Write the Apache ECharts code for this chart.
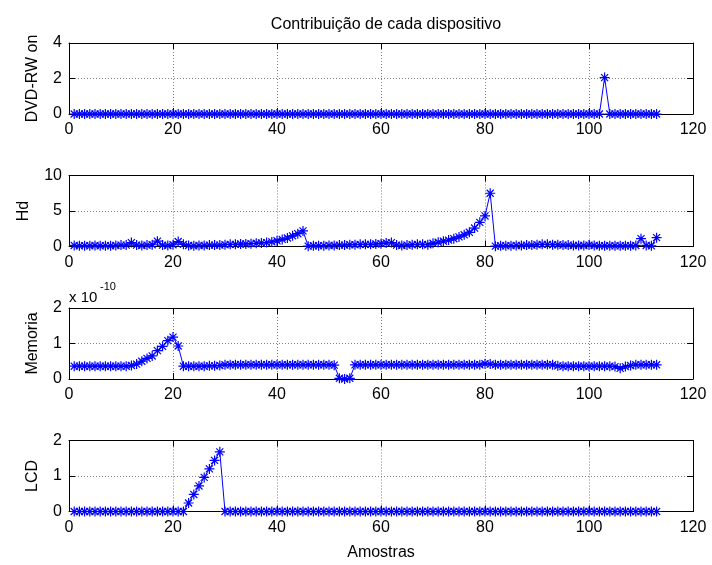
<!DOCTYPE html>
<html>
<head>
<meta charset="utf-8">
<script src="https://cdn.jsdelivr.net/npm/echarts@6/dist/echarts.min.js"></script>
<style>
html,body{margin:0;padding:0;background:#fff;}
#chart{width:712px;height:565px;}
</style>
</head>
<body>
<div id="chart"></div>
<script>
// ---- Data (sample index 1..113) ----
const amostras = Array.from({length: 113}, (_, i) => i + 1);

const xTicks = [0, 20, 40, 60, 80, 100, 120];

const dvdRwOn = [
  0,0,0,0,0,0,0,0,0,0, 0,0,0,0,0,0,0,0,0,0,
  0,0,0,0,0,0,0,0,0,0, 0,0,0,0,0,0,0,0,0,0,
  0,0,0,0,0,0,0,0,0,0, 0,0,0,0,0,0,0,0,0,0,
  0,0,0,0,0,0,0,0,0,0, 0,0,0,0,0,0,0,0,0,0,
  0,0,0,0,0,0,0,0,0,0, 0,0,0,0,0,0,0,0,0,0,
  0,0,2.05,0,0,0,0,0,0,0, 0,0,0
];

const hd = [
  0.15,0.10,0.12,0.10,0.15,0.10,0.12,0.10,0.15,0.20,
  0.20,0.55,0.20,0.15,0.20,0.25,0.75,0.20,0.15,0.25,
  0.70,0.30,0.15,0.10,0.15,0.15,0.20,0.20,0.20,0.25,
  0.30,0.30,0.35,0.35,0.40,0.45,0.50,0.55,0.65,0.80,
  1.00,1.20,1.50,1.80,2.20,0.05,0.10,0.10,0.12,0.15,
  0.15,0.20,0.20,0.25,0.25,0.30,0.30,0.30,0.35,0.40,
  0.50,0.55,0.20,0.15,0.20,0.25,0.30,0.30,0.25,0.45,
  0.60,0.75,0.90,1.10,1.35,1.65,2.00,2.60,3.40,4.30,
  7.50,0.05,0.10,0.10,0.12,0.15,0.15,0.20,0.20,0.25,
  0.30,0.30,0.25,0.25,0.20,0.20,0.15,0.15,0.15,0.20,
  0.15,0.10,0.10,0.10,0.10,0.10,0.10,0.10,0.15,1.10,
  0.15,0.10,1.25
];

// Memoria values in units of 1e-10
const memoria = [
  0.36,0.36,0.36,0.36,0.36,0.36,0.36,0.36,0.36,0.36,
  0.36,0.38,0.42,0.50,0.58,0.65,0.80,0.92,1.08,1.18,
  0.93,0.36,0.36,0.36,0.36,0.36,0.37,0.37,0.38,0.40,
  0.40,0.40,0.40,0.40,0.40,0.40,0.40,0.40,0.40,0.40,
  0.40,0.40,0.40,0.40,0.40,0.40,0.40,0.40,0.40,0.40,
  0.39,0.02,0.00,0.02,0.40,0.40,0.40,0.40,0.40,0.40,
  0.40,0.40,0.40,0.40,0.40,0.40,0.40,0.40,0.40,0.40,
  0.40,0.40,0.40,0.40,0.40,0.40,0.40,0.40,0.40,0.43,
  0.42,0.40,0.40,0.40,0.40,0.40,0.40,0.40,0.40,0.40,
  0.40,0.40,0.40,0.37,0.36,0.36,0.36,0.36,0.36,0.36,
  0.36,0.36,0.36,0.36,0.35,0.30,0.35,0.38,0.40,0.40,
  0.40,0.40,0.40
];

const lcd = [
  0,0,0,0,0,0,0,0,0,0, 0,0,0,0,0,0,0,0,0,0,
  0,0,0.24,0.48,0.72,0.96,1.20,1.44,1.68,0,
  0,0,0,0,0,0,0,0,0,0, 0,0,0,0,0,0,0,0,0,0,
  0,0,0,0,0,0,0,0,0,0, 0,0,0,0,0,0,0,0,0,0,
  0,0,0,0,0,0,0,0,0,0, 0,0,0,0,0,0,0,0,0,0,
  0,0,0,0,0,0,0,0,0,0, 0,0,0,0,0,0,0,0,0,0,
  0,0,0
];

const panels = [
  {name: 'DVD-RW on', values: dvdRwOn, yMax: 4, yStep: 2, nameGap: 28},
  {name: 'Hd',        values: hd,      yMax: 10, yStep: 5, nameGap: 37},
  {name: 'Memoria',   values: memoria, yMax: 2, yStep: 1, nameGap: 28},
  {name: 'LCD',       values: lcd,     yMax: 2, yStep: 1, nameGap: 28}
];

// ---- Styling ----
const FONT = 'Liberation Sans, Arial, Helvetica, sans-serif';
const BLUE = '#0000ff';
const STAR = 'path://M8.8 0L11.2 0L11.2 20L8.8 20Z M0 8.8L20 8.8L20 11.2L0 11.2Z M3.8 2.1L17.9 16.2L16.2 17.9L2.1 3.8Z M16.2 2.1L17.9 3.8L3.8 17.9L2.1 16.2Z';

const LEFT = 69, WIDTH = 624, HEIGHT = 71, TOP0 = 43, STEP = 132.5;

const grids = [], xAxes = [], yAxes = [], series = [];
panels.forEach((p, i) => {
  grids.push({left: LEFT, top: TOP0 + i * STEP, width: WIDTH, height: HEIGHT, containLabel: false});
  const axLine = {show: true, onZero: false, lineStyle: {color: '#000', width: 1}};
  const tick = {show: true, inside: true, length: 6, lineStyle: {color: '#000', width: 1}};
  xAxes.push({
    gridIndex: i, type: 'value', min: 0, max: 120, interval: 20, position: 'bottom',
    axisLine: axLine, axisTick: tick,
    axisLabel: {show: true, color: '#000', fontFamily: FONT, fontSize: 16, margin: 8,
      formatter: v => xTicks.includes(v) ? String(v) : ''},
    splitLine: {show: true, lineStyle: {color: '#808080', type: [1, 2], width: 1}},
    name: i === 3 ? 'Amostras' : '', nameLocation: 'middle', nameGap: 33,
    nameTextStyle: {color: '#000', fontFamily: FONT, fontSize: 16}
  });
  xAxes.push({
    gridIndex: i, type: 'value', min: 0, max: 120, interval: 20, position: 'top',
    axisLine: axLine, axisTick: tick, axisLabel: {show: false}, splitLine: {show: false}
  });
  yAxes.push({
    gridIndex: i, type: 'value', min: 0, max: p.yMax, interval: p.yStep, position: 'left',
    axisLine: axLine, axisTick: tick,
    axisLabel: {show: true, color: '#000', fontFamily: FONT, fontSize: 16, margin: 7},
    splitLine: {show: true, lineStyle: {color: '#808080', type: [1, 2], width: 1}},
    name: p.name, nameLocation: 'middle', nameGap: p.nameGap, nameRotate: 90,
    nameTextStyle: {color: '#000', fontFamily: FONT, fontSize: 16}
  });
  yAxes.push({
    gridIndex: i, type: 'value', min: 0, max: p.yMax, interval: p.yStep, position: 'right',
    axisLine: axLine, axisTick: tick, axisLabel: {show: false}, splitLine: {show: false}
  });
  series.push({
    type: 'line', name: p.name, xAxisIndex: 2 * i, yAxisIndex: 2 * i,
    data: amostras.map((x, k) => [x, p.values[k]]),
    symbol: STAR, symbolSize: 10, showAllSymbol: true, clip: false,
    itemStyle: {color: BLUE},
    lineStyle: {color: BLUE, width: 1},
    animation: false
  });
});

const chart = echarts.init(document.getElementById('chart'), null, {renderer: 'canvas'});
chart.setOption({
  backgroundColor: '#fff',
  animation: false,
  title: {
    text: 'Contribuição de cada dispositivo', left: LEFT + WIDTH / 2, top: 12, textAlign: 'center',
    textStyle: {color: '#000', fontFamily: FONT, fontSize: 16, fontWeight: 'normal'}
  },
  grid: grids, xAxis: xAxes, yAxis: yAxes, series: series,
  graphic: [
    {type: 'text', left: 69, top: 290, style: {text: 'x 10', fill: '#000', font: '15px ' + FONT}},
    {type: 'text', left: 100, top: 281, style: {text: '-10', fill: '#000', font: '11px ' + FONT}}
  ]
});
</script>
</body>
</html>
